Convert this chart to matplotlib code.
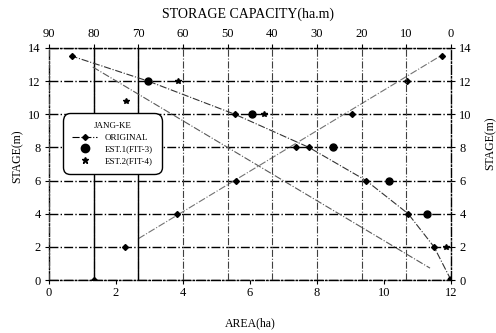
import matplotlib
matplotlib.use('Agg')
import matplotlib.pyplot as plt
from matplotlib.lines import Line2D

plt.rcParams['font.family'] = ['Liberation Serif', 'DejaVu Serif']

# stage (m) of the surveyed points
stage = [0, 2, 4, 6, 8, 10, 12, 13.5]
# original area (ha) and storage capacity (ha.m)
area_orig = [1.34, 2.27, 3.82, 5.58, 7.37, 9.04, 10.69, 11.73]
cap_orig = [0, 3.8, 9.6, 19.0, 31.8, 48.4, 67.8, 84.8]

# estimated capacity, fit 3 and fit 4
est1_stage = [0, 4, 6, 8, 10, 12]
est1_cap = [0, 5.4, 13.9, 26.4, 44.5, 67.8]
est2_stage = [2, 10, 12, 10.8]
est2_cap = [1.1, 41.9, 61.1, 72.7]

# fitted lines
area_fit_x = [2.67, 11.67]
area_fit_y = [2.5, 13.5]
cap_fit_x = [80.2, 4.7]
cap_fit_y = [12.85, 0.72]

area_ticks = [0, 2, 4, 6, 8, 10, 12]
cap_ticks = [90, 80, 70, 60, 50, 40, 30, 20, 10, 0]
stage_ticks = [0, 2, 4, 6, 8, 10, 12, 14]

fig = plt.figure(figsize=(4.96, 3.33), dpi=100)
ax = fig.add_axes([0.0988, 0.159, 0.8105, 0.697])
ax.set_xlim(0, 12)
ax.set_ylim(0, 14)
ax.set_xticks(area_ticks)
ax.set_yticks(stage_ticks)
ax.tick_params(axis='x', direction='out', length=3, pad=2, labelsize=9)
ax.tick_params(axis='y', direction='out', length=3, labelsize=9,
               left=True, right=True, labelleft=True, labelright=True)
ax.tick_params(axis='y', which='major', pad=3)
ax.grid(axis='y', ls='-.', color='k', lw=1.0)
for sp in ax.spines.values():
    sp.set_linestyle('-.')
    sp.set_linewidth(1.0)

ax.plot(area_fit_x, area_fit_y, ls='-.', color='0.45', lw=0.8)
ax.plot(area_orig, stage, ls='none', marker='D', ms=3, color='k')

ax2 = ax.twiny()
ax2.set_xlim(90, 0)
ax2.set_xticks(cap_ticks)
ax2.tick_params(axis='x', direction='out', length=3, pad=3, labelsize=9)
ax2.grid(axis='x', ls='-.', color='0.25', lw=0.8)
for c in [80, 70]:
    ax2.axvline(c, color='k', lw=1.0)
for sp in ax2.spines.values():
    sp.set_visible(False)

ax2.plot(cap_orig, stage, ls='-.', color='0.2', lw=0.8, marker='D', ms=3,
         mfc='k', mec='k')
ax2.plot(cap_fit_x, cap_fit_y, ls='-.', color='0.35', lw=0.8)
ax2.plot(est1_cap, est1_stage, ls='none', marker='o', ms=5, color='k')
ax2.plot(est2_cap, est2_stage, ls='none', marker='*', ms=4, color='k')

handles = [Line2D([], [], color='k', ls='-.', lw=0.8, marker='D', ms=3),
           Line2D([], [], color='k', ls='none', marker='o', ms=6),
           Line2D([], [], color='k', ls='none', marker='*', ms=5)]
labels = ['ORIGINAL', 'EST.1(FIT-3)', 'EST.2(FIT-4)']
leg = ax2.legend(handles, labels, title='JANG-KE', loc='upper left',
                 bbox_to_anchor=(0.028, 0.73), fontsize=6.5, title_fontsize=6.5,
                 frameon=True, fancybox=True, edgecolor='k', framealpha=1,
                 handlelength=2.8, labelspacing=0.35, borderpad=0.8)
leg.get_frame().set_linewidth(1.0)
leg.get_frame().set_boxstyle('round,pad=0.2,rounding_size=0.8')

fig.text(0.5, 0.958, 'STORAGE CAPACITY(ha.m)', ha='center', va='center', fontsize=10)
fig.text(0.504, 0.03, 'AREA(ha)', ha='center', va='center', fontsize=8.5)
fig.text(0.036, 0.53, 'STAGE(m)', ha='center', va='center', rotation=90, fontsize=8.5)
fig.text(0.988, 0.57, 'STAGE(m)', ha='center', va='center', rotation=90, fontsize=8.5)

plt.savefig('out.png', dpi=100)
